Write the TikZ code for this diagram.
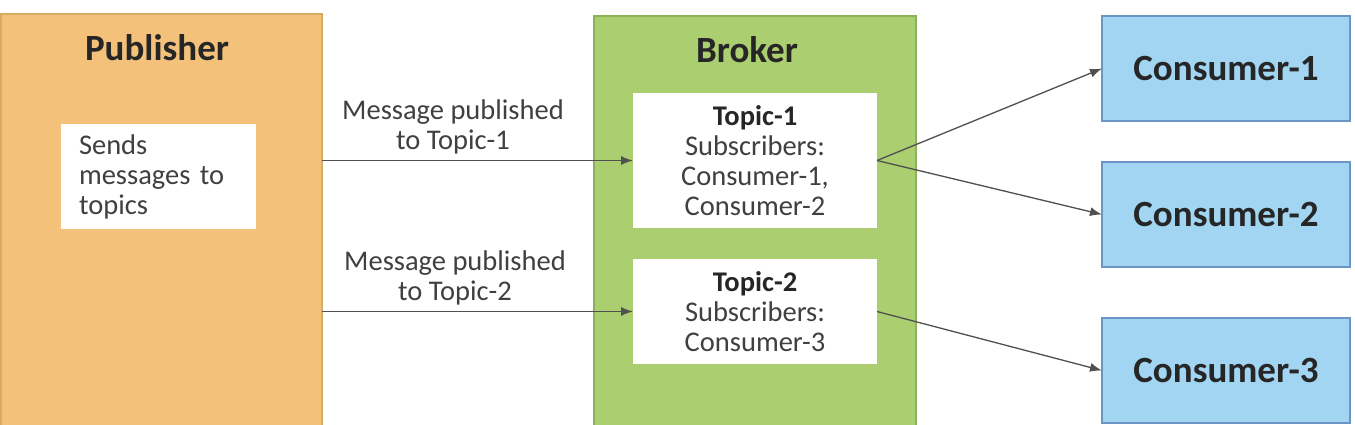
\documentclass[tikz,border=0pt]{standalone}
\usepackage{fontspec}
\setmainfont{Carlito}
\usetikzlibrary{arrows.meta}
\definecolor{pubfill}{RGB}{243,193,122}
\definecolor{publine}{RGB}{214,172,96}
\definecolor{brkfill}{RGB}{170,206,112}
\definecolor{brkline}{RGB}{138,178,88}
\definecolor{confill}{RGB}{161,213,242}
\definecolor{conline}{RGB}{108,148,196}
\definecolor{txtdark}{RGB}{38,38,38}
\definecolor{txtreg}{RGB}{64,64,64}
\definecolor{arrcol}{RGB}{80,80,80}
\begin{document}
\begin{tikzpicture}[x=1pt,y=-1pt,
  box/.style={inner sep=0pt, outer sep=0pt, line width=1.5pt},
  pubbox/.style={box, draw=publine, fill=pubfill, anchor=north west},
  brkbox/.style={box, draw=brkline, fill=brkfill, anchor=north west},
  whitebox/.style={box, fill=white, font=\fontsize{28.5}{30}\selectfont, text=txtreg},
  conbox/.style={box, draw=conline, fill=confill, minimum width=248pt, minimum height=105pt,
    font=\fontsize{37}{40}\selectfont\bfseries, text=txtdark},
  titletext/.style={inner sep=0pt, font=\fontsize{37}{40}\selectfont\bfseries, text=txtdark},
  lbl/.style={inner sep=0pt, align=center, font=\fontsize{28.5}{30}\selectfont, text=txtreg},
  arr/.style={draw=arrcol, line width=1.3pt, -{Latex[length=12pt,width=9pt]}}
]
\useasboundingbox (0,0) rectangle (1355,425);
\clip (0,0) rectangle (1355,425);
\fill[white] (0,0) rectangle (1355,425);

% Publisher
\node[pubbox, minimum width=321pt, minimum height=430pt] (pub) at (1,14) {};
\node[titletext] (pubtitle) at (157,48) {Publisher};
\node[whitebox, minimum width=195pt, minimum height=105pt, text width=159pt,
  inner xsep=18pt, align=left] (sends) at (158.5,176.5) {Sends\\messages to\\topics};

% Broker
\node[brkbox, minimum width=322pt, minimum height=430pt] (brk) at (594,16) {};
\node[titletext] (brktitle) at (747,50) {Broker};
\node[whitebox, minimum width=244pt, minimum height=135pt, align=center] (t1) at (755,160.5)
  {\textbf{\color{txtdark}Topic-1}\\Subscribers:\\Consumer-1,\\Consumer-2};
\node[whitebox, minimum width=244pt, minimum height=105pt, align=center] (t2) at (755,311.5)
  {\textbf{\color{txtdark}Topic-2}\\Subscribers:\\Consumer-3};

% Consumers
\node[conbox] (c1) at (1226,68.5) {Consumer-1};
\node[conbox] (c2) at (1226,214.5) {Consumer-2};
\node[conbox] (c3) at (1226,370.5) {Consumer-3};

% Arrow labels
\node[lbl] (l1) at (453,127) {Message published\\to Topic-1};
\node[lbl] (l2) at (455,278) {Message published\\to Topic-2};

% Connectors
\draw[arr] (pub.east |- t1.west) -- (t1.west);
\draw[arr] (pub.east |- t2.west) -- (t2.west);
\draw[arr] (t1.east) -- (c1.west);
\draw[arr] (t1.east) -- (c2.west);
\draw[arr] (t2.east) -- (c3.west);
\end{tikzpicture}
\end{document}
